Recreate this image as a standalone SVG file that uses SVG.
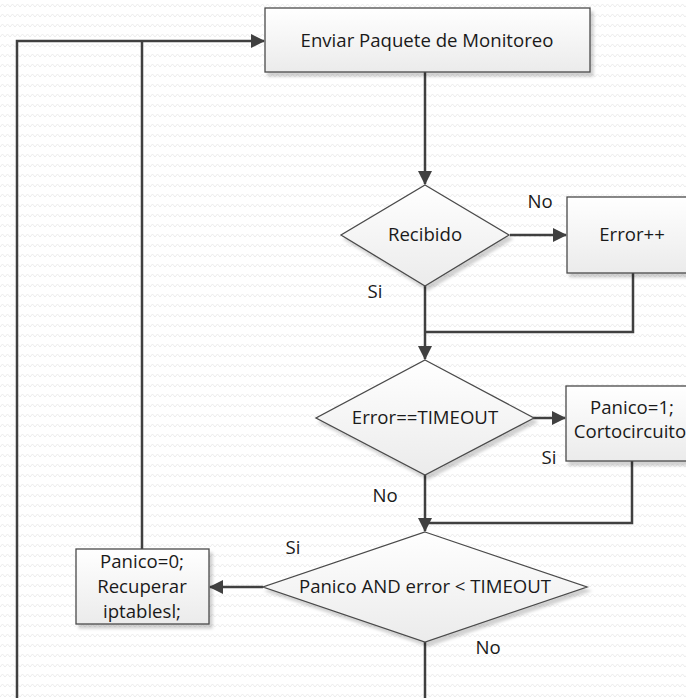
<svg xmlns="http://www.w3.org/2000/svg" width="686" height="698" viewBox="0 0 686 698">
  <defs>
    <pattern id="bgWave" width="10" height="10" patternUnits="userSpaceOnUse">
      <path d="M0,7 L2.5,4 L5,7 L7.5,4 L10,7" fill="none" stroke="#ececec" stroke-width="1"/>
    </pattern>
    <linearGradient id="shapeFill" x1="0" y1="0" x2="0" y2="1">
      <stop offset="0" stop-color="#ffffff"/>
      <stop offset="1" stop-color="#ebebeb"/>
    </linearGradient>
    <filter id="shadow" x="-10%" y="-10%" width="130%" height="140%">
      <feDropShadow dx="3" dy="4" stdDeviation="1.5" flood-color="#000" flood-opacity="0.18"/>
    </filter>
    <marker id="arrow" viewBox="0 0 14 14" refX="13" refY="7" markerWidth="14" markerHeight="14" markerUnits="userSpaceOnUse" orient="auto">
      <path d="M0,0 L14,7 L0,14 Z" fill="#404040"/>
    </marker>
    <style>
      .shape { fill: url(#shapeFill); stroke: #4a4a4a; stroke-width: 1.3; filter: url(#shadow); }
      .label { font-family: "Open Sans", "Liberation Sans", sans-serif; font-size: 18.6px; fill: #1a1a1a; text-anchor: middle; }
      .conn { fill: none; stroke: #404040; stroke-width: 2.5; }
      .arr { marker-end: url(#arrow); }
    </style>
  </defs>

  <rect width="686" height="698" fill="#ffffff"/>
  <rect width="686" height="698" fill="url(#bgWave)"/>

  <!-- connectors -->
  <g id="connectors">
    <path class="conn arr" d="M17,698 V41 H264"/>
    <path class="conn" d="M142,549 V41"/>
    <path class="conn arr" d="M425,72 V184"/>
    <path class="conn arr" d="M510,235 H566"/>
    <path class="conn arr" d="M425,286 V359"/>
    <path class="conn" d="M633,273 V332 H425"/>
    <path class="conn arr" d="M533,418 H565"/>
    <path class="conn arr" d="M425,475 V531"/>
    <path class="conn" d="M632,461 V523 H425"/>
    <path class="conn arr" d="M263,587 H210"/>
    <path class="conn" d="M425,642 V698"/>
  </g>

  <!-- nodes -->
  <g id="enviar">
    <rect class="shape" x="265" y="8" width="325" height="64"/>
    <text class="label" x="427" y="47">Enviar Paquete de Monitoreo</text>
  </g>

  <g id="recibido">
    <polygon class="shape" points="425,185 509,235 425,286 341,235"/>
    <text class="label" x="425" y="241">Recibido</text>
  </g>

  <g id="error-inc">
    <rect class="shape" x="567" y="197" width="132" height="76"/>
    <text class="label" x="632" y="241">Error++</text>
  </g>

  <g id="timeout-check">
    <polygon class="shape" points="425,360 534,418 425,475 316,418"/>
    <text class="label" x="425" y="424">Error==TIMEOUT</text>
  </g>

  <g id="panico-on">
    <rect class="shape" x="566" y="386" width="132" height="75"/>
    <text class="label" x="632" y="414">Panico=1;</text>
    <text class="label" x="630" y="438">Cortocircuito</text>
  </g>

  <g id="panico-check">
    <polygon class="shape" points="425,532 587,587 425,642 263,587"/>
    <text class="label" x="425" y="593">Panico AND error &lt; TIMEOUT</text>
  </g>

  <g id="recuperar">
    <rect class="shape" x="76" y="549" width="133" height="75"/>
    <text class="label" x="142" y="568">Panico=0;</text>
    <text class="label" x="142" y="593">Recuperar</text>
    <text class="label" x="142" y="618">iptablesl;</text>
  </g>

  <!-- branch labels -->
  <g id="branch-labels">
    <text class="label" x="540" y="208">No</text>
    <text class="label" x="375" y="298">Si</text>
    <text class="label" x="549" y="464">Si</text>
    <text class="label" x="385" y="502">No</text>
    <text class="label" x="293" y="554">Si</text>
    <text class="label" x="488" y="654">No</text>
  </g>
</svg>
